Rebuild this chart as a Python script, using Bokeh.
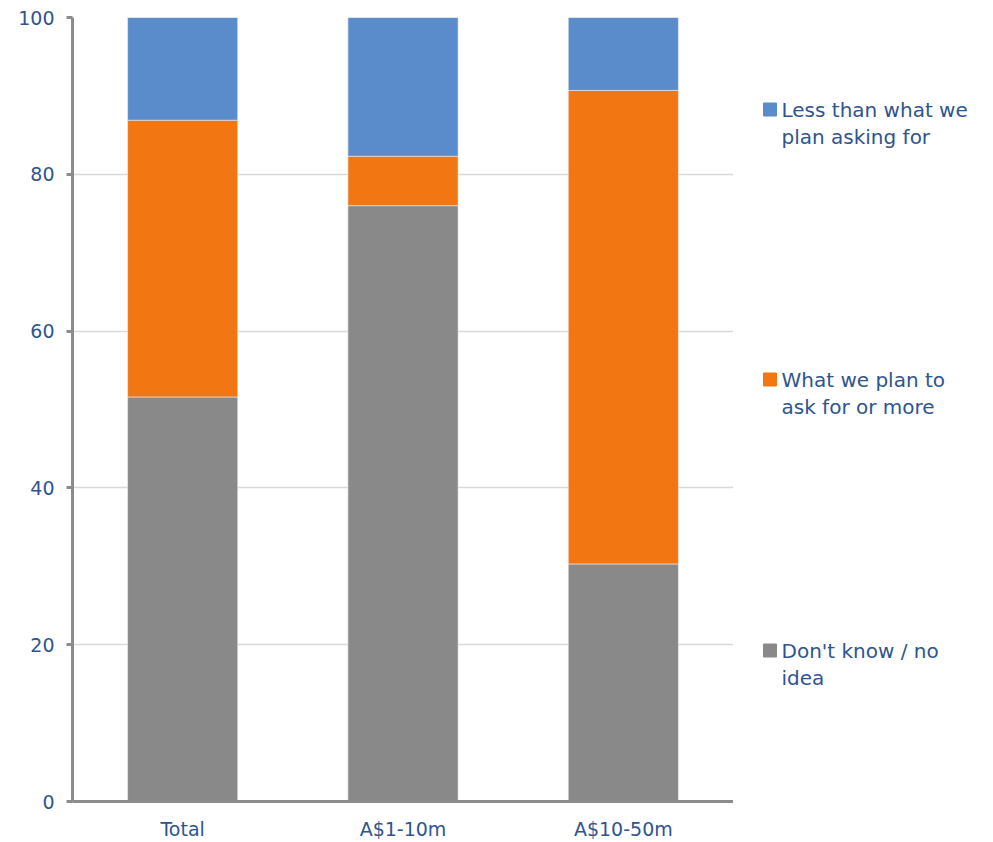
from bokeh.plotting import figure
from bokeh.models import Range1d, FactorRange, ColumnDataSource, FixedTicker
from bokeh.layouts import row
from bokeh.core.properties import value
from bokeh.embed import file_html
from bokeh.resources import INLINE

# ---- data ----
categories = ["Total", "A$1-10m", "A$10-50m"]
dont_know = [51.6, 76.0, 30.3]
plan_or_more = [35.3, 6.3, 60.4]
less_than = [13.1, 17.7, 9.3]
series_names = ["Don't know / no idea", "What we plan to ask for or more", "Less than what we plan asking for"]
y_ticks = [0, 20, 40, 60, 80, 100]

COL_GRAY = "#898989"
COL_ORANGE = "#F27612"
COL_BLUE = "#5A8BCB"
TEXT_COL = "#2E5590"
FONT = "DejaVu Sans"

source = ColumnDataSource(dict(cat=categories, dk=dont_know, pm=plan_or_more, lt=less_than))

p = figure(x_range=FactorRange(*categories, range_padding=0.0), y_range=Range1d(0, 100),
           width=733, height=842, output_backend="svg", toolbar_location=None,
           min_border_left=72, min_border_right=0, min_border_top=17, min_border_bottom=41)
p.x_range.range_padding = 0.0
p.vbar_stack(["dk", "pm", "lt"], x="cat", width=0.5, source=source,
             color=[COL_GRAY, COL_ORANGE, COL_BLUE], line_color="#f0f0f0", line_width=1, line_alpha=0.6)

p.outline_line_color = None
p.xgrid.grid_line_color = None
p.ygrid.grid_line_color = "#D9D9D9"
p.ygrid.grid_line_width = 1.5
p.yaxis.ticker = FixedTicker(ticks=y_ticks)
for ax in (p.xaxis[0], p.yaxis[0]):
    ax.axis_line_color = "#8C8C8C"
    ax.axis_line_width = 3
    ax.major_label_text_color = TEXT_COL
    ax.major_label_text_font = FONT
    ax.major_label_text_font_size = "19px"
    ax.minor_tick_line_color = None
p.yaxis.major_tick_line_color = "#8C8C8C"
p.yaxis.major_tick_line_width = 3
p.yaxis.major_tick_out = 6
p.yaxis.major_tick_in = 0
p.yaxis.major_label_standoff = 12
p.xaxis.major_tick_line_color = None
p.xaxis.major_tick_out = 0
p.xaxis.major_tick_in = 0
p.xaxis.major_label_standoff = 16

# ---- legend panel (frame aligned with main plot frame: canvas y 17..801) ----
lg = figure(x_range=Range1d(733, 993), y_range=Range1d(801, 17), width=260, height=842,
            output_backend="svg", toolbar_location=None, x_axis_type=None, y_axis_type=None,
            min_border_left=0, min_border_right=0, min_border_top=17, min_border_bottom=41)
lg.outline_line_color = None
lg.xgrid.visible = False
lg.ygrid.visible = False

legend_lines = [["Less than what we", "plan asking for"],
                ["What we plan to", "ask for or more"],
                ["Don't know / no", "idea"]]
legend_colors = [COL_BLUE, COL_ORANGE, COL_GRAY]
legend_y = [109, 379, 650]
lg.rect(x=[769.5] * 3, y=legend_y, width=13, height=13, color=legend_colors)
tx, ty, tt = [], [], []
for lines, y0 in zip(legend_lines, legend_y):
    for i, t in enumerate(lines):
        tx.append(781)
        ty.append(y0 + i * 27)
        tt.append(t)
lg.text(x=tx, y=ty, text=tt, text_baseline="middle", text_align="left",
        text_color=TEXT_COL, text_font=value(FONT), text_font_size="20px")

layout = row(p, lg, spacing=0)
open("out.html", "w").write(file_html(layout, INLINE))
